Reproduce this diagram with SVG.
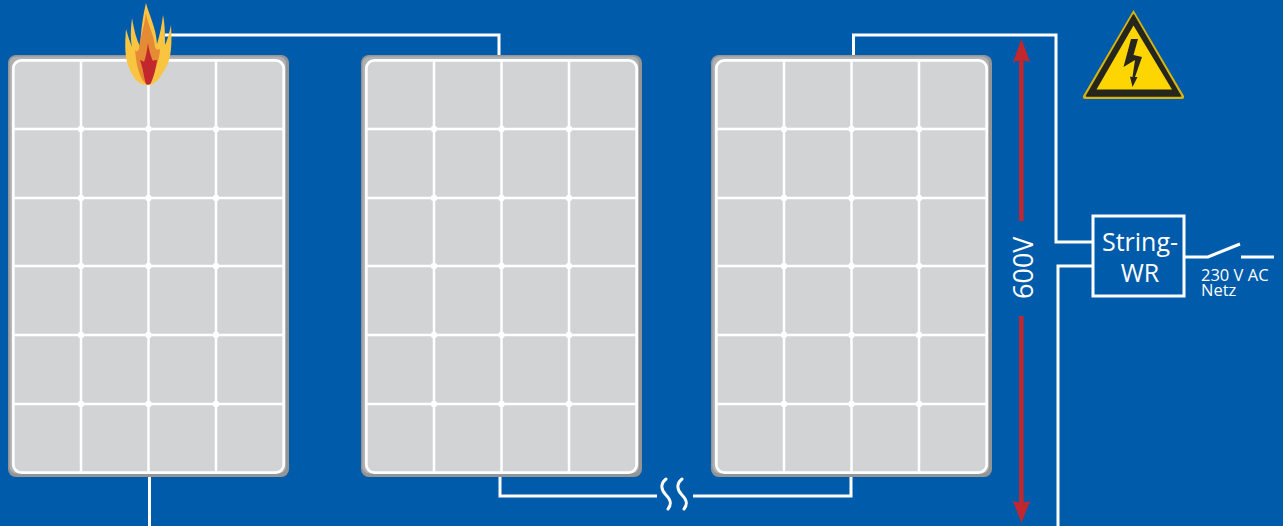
<svg xmlns="http://www.w3.org/2000/svg" xmlns:xlink="http://www.w3.org/1999/xlink" width="1283" height="526" viewBox="0 0 1283 526">
<style>
.frame{fill:#949597}
.frame2{fill:#afb0b2}
.cell{fill:#d2d3d5;stroke:#fff;stroke-width:2.8}
.grid{stroke:#fff;stroke-width:2.5;fill:none}
.dot{fill:#fff}
.wire{fill:none;stroke:#fff;stroke-width:3}
.volt{stroke:#c1272d;stroke-width:4.5;fill:none}
.head{fill:#c1272d}
text{font-family:"Open Sans","Noto Sans","Liberation Sans",sans-serif;fill:#fff}
</style>
<defs>
<g id="panel">
<rect class="frame" x="0" y="0" width="281" height="422" rx="8"/>
<rect class="frame2" x="1.500" y="1.500" width="276.500" height="417" rx="7"/>
<rect class="cell" x="5.300" y="5.300" width="270.400" height="412.400" rx="8"/>
<path class="grid" d="M73 5V418M140.500 5V418M208 5V418M5 74H276M5 143H276M5 211H276M5 280H276M5 349H276"/>
<g class="dot">
<circle cx="73" cy="74" r="3.200"/><circle cx="140.500" cy="74" r="3.200"/><circle cx="208" cy="74" r="3.200"/>
<circle cx="73" cy="143" r="3.200"/><circle cx="140.500" cy="143" r="3.200"/><circle cx="208" cy="143" r="3.200"/>
<circle cx="73" cy="211" r="3.200"/><circle cx="140.500" cy="211" r="3.200"/><circle cx="208" cy="211" r="3.200"/>
<circle cx="73" cy="280" r="3.200"/><circle cx="140.500" cy="280" r="3.200"/><circle cx="208" cy="280" r="3.200"/>
<circle cx="73" cy="349" r="3.200"/><circle cx="140.500" cy="349" r="3.200"/><circle cx="208" cy="349" r="3.200"/>
</g>
</g>
</defs>
<rect width="1283" height="526" fill="#005bab"/>
<g id="connectors">
<path class="wire" d="M165 35H499V56"/>
<path class="wire" d="M853.500 56V35H1056V242H1093"/>
<path class="wire" d="M1093 266H1058V526"/>
<path class="wire" d="M149.500 476V526"/>
<path class="wire" d="M500 476V496H657"/>
<path class="wire" d="M693 496H851V476"/>
<path class="wire" d="M666 479C660 484 661 490 666 495C671 500 672 504 668 509M682 479C676 484 677 490 682 495C687 500 688 504 684 509" stroke-linecap="round"/>
<path class="wire" d="M1185 257H1208L1240 244M1241 257H1274"/>
</g>
<g id="panel-1"><use xlink:href="#panel" href="#panel" x="8" y="55"/></g>
<g id="panel-2"><use xlink:href="#panel" href="#panel" x="361" y="55"/></g>
<g id="panel-3"><use xlink:href="#panel" href="#panel" x="711" y="55"/></g>
<g id="flame">
<path fill="#f9c540" d="M146 3C149 15 156 27 157 44C160 34 162 24 163 15C165 24 165 36 165 45C167 41 169 34 171 25C172 42 172 58 165 69C160 78 155 85 148 85C140 85 134 80 130 70C124 58 125 43 126 29C128 36 130 42 132 47C130 36 131 27 132 18C134 30 137 41 140 46C141 30 143 15 146 3Z"/>
<path fill="#e58b35" d="M146 13C148 26 154 34 155 47C156 50 158 50 160 49C160 58 156 66 154 72C152 80 150 84 148 84C144 84 141 78 139 72C137 66 136 60 135 50C137 52 138 52 139 48C140 38 144 28 146 13Z"/>
<path fill="#c1272d" d="M148 43C149 50 151 57 153 61C154 60 156 60 157 60C156 68 154 76 151 83C150 85 147 85 146 84C144 78 143 68 140 60C141 60 143 61 144 62C146 57 147 50 148 43Z"/>
</g>
<g id="warning-sign">
<path d="M1133.500 10L1184 96C1184.500 98 1183.500 99 1182 99H1085C1083.500 99 1082.500 98 1083 96Z" fill="#d6b50c"/>
<path d="M1133.500 15L1180.500 96H1086.500Z" fill="#26261c" stroke="#26261c" stroke-width="1.500" stroke-linejoin="round"/>
<path d="M1133.500 25.500L1172 89.500H1096.500Z" fill="#fdd602"/>
<path d="M1131 39H1138L1133.500 55L1142 57L1135 77L1137.500 77L1132.500 87L1130 76.500L1132.500 77L1135 60L1123.500 67Z" fill="#26261c"/>
</g>
<g id="voltage-arrow">
<path class="volt" d="M1021.300 60V221M1021.300 316V503"/>
<path class="head" d="M1021.500 39L1030 62L1021.500 60L1013 62Z"/>
<path class="head" d="M1021.500 523L1030 501L1021.500 503L1013 501Z"/>
<text transform="translate(1033 299) rotate(-90)" font-size="27">600V</text>
</g>
<g id="string-wr">
<rect x="1093" y="216" width="91" height="80" fill="none" stroke="#fff" stroke-width="3"/>
<text x="1140" y="251" font-size="25" text-anchor="middle">String-</text>
<text x="1140" y="282" font-size="25" text-anchor="middle">WR</text>
</g>
<g id="netz-label">
<text x="1201" y="281" font-size="16.500">230 V AC</text>
<text x="1201" y="296" font-size="16.500">Netz</text>
</g>
</svg>
